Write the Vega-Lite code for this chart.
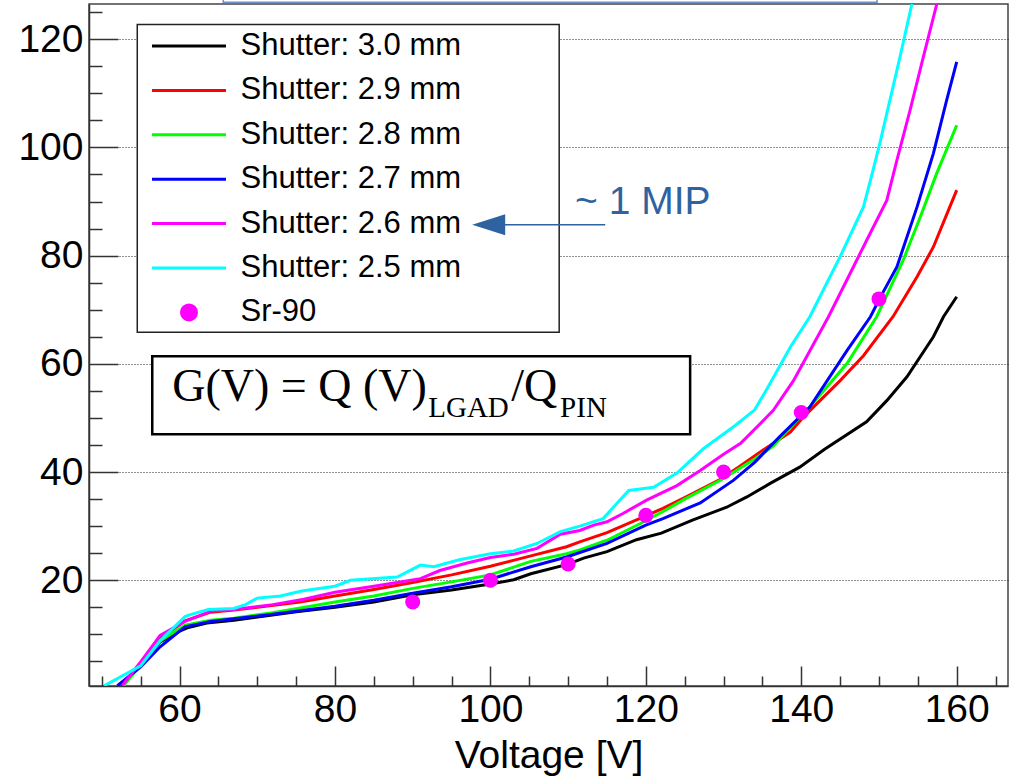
{
  "$schema": "https://vega.github.io/schema/vega-lite/v6.json",
  "width": 919,
  "height": 682,
  "autosize": "none",
  "padding": {"left": 89, "top": 4, "right": 1, "bottom": 94},
  "background": "white",
  "config": {
    "view": {"stroke": "#444444", "strokeWidth": 1.5},
    "font": "Liberation Sans"
  },
  "datasets": {
    "curves": [
      {"s":"Shutter: 3.0 mm","v":52.5,"g":0.5},{"s":"Shutter: 3.0 mm","v":55,"g":4.5},{"s":"Shutter: 3.0 mm","v":57.5,"g":8.6},{"s":"Shutter: 3.0 mm","v":60,"g":10.6},{"s":"Shutter: 3.0 mm","v":61,"g":11.2},{"s":"Shutter: 3.0 mm","v":63.5,"g":12.1},{"s":"Shutter: 3.0 mm","v":67,"g":12.6},{"s":"Shutter: 3.0 mm","v":71,"g":13.4},{"s":"Shutter: 3.0 mm","v":75,"g":14.2},{"s":"Shutter: 3.0 mm","v":80,"g":15.0},{"s":"Shutter: 3.0 mm","v":85,"g":16.0},{"s":"Shutter: 3.0 mm","v":90,"g":17.3},{"s":"Shutter: 3.0 mm","v":95,"g":18.2},{"s":"Shutter: 3.0 mm","v":100,"g":19.3},{"s":"Shutter: 3.0 mm","v":103,"g":20.1},{"s":"Shutter: 3.0 mm","v":105.2,"g":21.2},{"s":"Shutter: 3.0 mm","v":109.8,"g":22.9},{"s":"Shutter: 3.0 mm","v":112,"g":24.1},{"s":"Shutter: 3.0 mm","v":115,"g":25.3},{"s":"Shutter: 3.0 mm","v":118.8,"g":27.5},{"s":"Shutter: 3.0 mm","v":122,"g":28.7},{"s":"Shutter: 3.0 mm","v":126,"g":31.1},{"s":"Shutter: 3.0 mm","v":130.4,"g":33.5},{"s":"Shutter: 3.0 mm","v":133,"g":35.4},{"s":"Shutter: 3.0 mm","v":136,"g":37.9},{"s":"Shutter: 3.0 mm","v":139.8,"g":40.9},{"s":"Shutter: 3.0 mm","v":143,"g":44.2},{"s":"Shutter: 3.0 mm","v":148.4,"g":49.3},{"s":"Shutter: 3.0 mm","v":151,"g":53.2},{"s":"Shutter: 3.0 mm","v":153.6,"g":57.6},{"s":"Shutter: 3.0 mm","v":157,"g":65.0},{"s":"Shutter: 3.0 mm","v":158.3,"g":68.7},{"s":"Shutter: 3.0 mm","v":160,"g":72.4},
      {"s":"Shutter: 2.9 mm","v":52.6,"g":0.5},{"s":"Shutter: 2.9 mm","v":55,"g":4.8},{"s":"Shutter: 2.9 mm","v":57.5,"g":9.2},{"s":"Shutter: 2.9 mm","v":60.7,"g":12.5},{"s":"Shutter: 2.9 mm","v":64,"g":14.1},{"s":"Shutter: 2.9 mm","v":67,"g":14.5},{"s":"Shutter: 2.9 mm","v":70,"g":15.0},{"s":"Shutter: 2.9 mm","v":75.5,"g":16.0},{"s":"Shutter: 2.9 mm","v":80,"g":17.1},{"s":"Shutter: 2.9 mm","v":85,"g":18.3},{"s":"Shutter: 2.9 mm","v":90,"g":19.6},{"s":"Shutter: 2.9 mm","v":95,"g":21.0},{"s":"Shutter: 2.9 mm","v":100,"g":22.6},{"s":"Shutter: 2.9 mm","v":105.2,"g":24.5},{"s":"Shutter: 2.9 mm","v":109.8,"g":26.2},{"s":"Shutter: 2.9 mm","v":111.5,"g":27.1},{"s":"Shutter: 2.9 mm","v":115,"g":28.8},{"s":"Shutter: 2.9 mm","v":120,"g":31.9},{"s":"Shutter: 2.9 mm","v":122.2,"g":33.3},{"s":"Shutter: 2.9 mm","v":125,"g":35.3},{"s":"Shutter: 2.9 mm","v":129.4,"g":38.5},{"s":"Shutter: 2.9 mm","v":132,"g":41.0},{"s":"Shutter: 2.9 mm","v":135,"g":44.0},{"s":"Shutter: 2.9 mm","v":138.6,"g":47.4},{"s":"Shutter: 2.9 mm","v":140.3,"g":50.2},{"s":"Shutter: 2.9 mm","v":145,"g":56.9},{"s":"Shutter: 2.9 mm","v":148,"g":61.5},{"s":"Shutter: 2.9 mm","v":151.8,"g":68.7},{"s":"Shutter: 2.9 mm","v":154.9,"g":76.1},{"s":"Shutter: 2.9 mm","v":157,"g":81.6},{"s":"Shutter: 2.9 mm","v":158.4,"g":86.5},{"s":"Shutter: 2.9 mm","v":160,"g":92.1},
      {"s":"Shutter: 2.8 mm","v":52.8,"g":0.5},{"s":"Shutter: 2.8 mm","v":55,"g":4.4},{"s":"Shutter: 2.8 mm","v":57.5,"g":8.8},{"s":"Shutter: 2.8 mm","v":60.7,"g":11.7},{"s":"Shutter: 2.8 mm","v":64,"g":12.6},{"s":"Shutter: 2.8 mm","v":67,"g":13.0},{"s":"Shutter: 2.8 mm","v":72,"g":14.0},{"s":"Shutter: 2.8 mm","v":80,"g":16.0},{"s":"Shutter: 2.8 mm","v":85,"g":17.1},{"s":"Shutter: 2.8 mm","v":90,"g":18.5},{"s":"Shutter: 2.8 mm","v":95,"g":19.7},{"s":"Shutter: 2.8 mm","v":100,"g":21.0},{"s":"Shutter: 2.8 mm","v":105.2,"g":23.5},{"s":"Shutter: 2.8 mm","v":109.8,"g":24.9},{"s":"Shutter: 2.8 mm","v":111.5,"g":25.6},{"s":"Shutter: 2.8 mm","v":115,"g":27.4},{"s":"Shutter: 2.8 mm","v":120,"g":31.0},{"s":"Shutter: 2.8 mm","v":122.2,"g":32.7},{"s":"Shutter: 2.8 mm","v":125,"g":35.0},{"s":"Shutter: 2.8 mm","v":130,"g":38.8},{"s":"Shutter: 2.8 mm","v":134,"g":42.4},{"s":"Shutter: 2.8 mm","v":136.4,"g":44.8},{"s":"Shutter: 2.8 mm","v":138.6,"g":48.3},{"s":"Shutter: 2.8 mm","v":140.7,"g":51.4},{"s":"Shutter: 2.8 mm","v":145.9,"g":60.1},{"s":"Shutter: 2.8 mm","v":149.7,"g":68.7},{"s":"Shutter: 2.8 mm","v":153.1,"g":79.1},{"s":"Shutter: 2.8 mm","v":155.3,"g":87.1},{"s":"Shutter: 2.8 mm","v":157.4,"g":95.1},{"s":"Shutter: 2.8 mm","v":160,"g":104.1},
      {"s":"Shutter: 2.7 mm","v":52.0,"g":0.5},{"s":"Shutter: 2.7 mm","v":55,"g":4.0},{"s":"Shutter: 2.7 mm","v":57.5,"g":7.7},{"s":"Shutter: 2.7 mm","v":60.7,"g":11.4},{"s":"Shutter: 2.7 mm","v":64,"g":12.4},{"s":"Shutter: 2.7 mm","v":67,"g":12.9},{"s":"Shutter: 2.7 mm","v":72,"g":13.7},{"s":"Shutter: 2.7 mm","v":80,"g":15.2},{"s":"Shutter: 2.7 mm","v":85,"g":16.3},{"s":"Shutter: 2.7 mm","v":90,"g":17.6},{"s":"Shutter: 2.7 mm","v":95,"g":18.8},{"s":"Shutter: 2.7 mm","v":100,"g":20.2},{"s":"Shutter: 2.7 mm","v":105.2,"g":22.5},{"s":"Shutter: 2.7 mm","v":109.8,"g":24.3},{"s":"Shutter: 2.7 mm","v":115,"g":26.8},{"s":"Shutter: 2.7 mm","v":120,"g":30.2},{"s":"Shutter: 2.7 mm","v":122.2,"g":31.4},{"s":"Shutter: 2.7 mm","v":127,"g":34.3},{"s":"Shutter: 2.7 mm","v":131.3,"g":38.5},{"s":"Shutter: 2.7 mm","v":134,"g":41.8},{"s":"Shutter: 2.7 mm","v":137.2,"g":46.5},{"s":"Shutter: 2.7 mm","v":141.1,"g":52.0},{"s":"Shutter: 2.7 mm","v":145.9,"g":62.5},{"s":"Shutter: 2.7 mm","v":148.9,"g":68.7},{"s":"Shutter: 2.7 mm","v":150.1,"g":72.1},{"s":"Shutter: 2.7 mm","v":152.3,"g":77.9},{"s":"Shutter: 2.7 mm","v":154.9,"g":89.0},{"s":"Shutter: 2.7 mm","v":157,"g":98.9},{"s":"Shutter: 2.7 mm","v":158.7,"g":108.7},{"s":"Shutter: 2.7 mm","v":160,"g":115.8},
      {"s":"Shutter: 2.6 mm","v":52.6,"g":0.5},{"s":"Shutter: 2.6 mm","v":55,"g":4.9},{"s":"Shutter: 2.6 mm","v":57.5,"g":9.8},{"s":"Shutter: 2.6 mm","v":60.7,"g":12.4},{"s":"Shutter: 2.6 mm","v":64,"g":14.3},{"s":"Shutter: 2.6 mm","v":67,"g":14.6},{"s":"Shutter: 2.6 mm","v":72,"g":15.5},{"s":"Shutter: 2.6 mm","v":76,"g":16.5},{"s":"Shutter: 2.6 mm","v":80,"g":17.8},{"s":"Shutter: 2.6 mm","v":85,"g":18.9},{"s":"Shutter: 2.6 mm","v":89,"g":19.8},{"s":"Shutter: 2.6 mm","v":91,"g":20.3},{"s":"Shutter: 2.6 mm","v":93.5,"g":21.8},{"s":"Shutter: 2.6 mm","v":97,"g":23.2},{"s":"Shutter: 2.6 mm","v":100,"g":24.2},{"s":"Shutter: 2.6 mm","v":103,"g":24.8},{"s":"Shutter: 2.6 mm","v":106,"g":25.9},{"s":"Shutter: 2.6 mm","v":109,"g":28.5},{"s":"Shutter: 2.6 mm","v":111.5,"g":29.2},{"s":"Shutter: 2.6 mm","v":113.3,"g":30.2},{"s":"Shutter: 2.6 mm","v":115,"g":30.8},{"s":"Shutter: 2.6 mm","v":117,"g":32.3},{"s":"Shutter: 2.6 mm","v":120.1,"g":34.8},{"s":"Shutter: 2.6 mm","v":124,"g":37.5},{"s":"Shutter: 2.6 mm","v":127,"g":40.3},{"s":"Shutter: 2.6 mm","v":130,"g":43.3},{"s":"Shutter: 2.6 mm","v":132.2,"g":45.3},{"s":"Shutter: 2.6 mm","v":136.4,"g":51.4},{"s":"Shutter: 2.6 mm","v":139,"g":56.9},{"s":"Shutter: 2.6 mm","v":143.5,"g":68.7},{"s":"Shutter: 2.6 mm","v":146.7,"g":77.9},{"s":"Shutter: 2.6 mm","v":148.4,"g":82.8},{"s":"Shutter: 2.6 mm","v":151,"g":90.2},{"s":"Shutter: 2.6 mm","v":152.3,"g":97.6},{"s":"Shutter: 2.6 mm","v":154,"g":106.9},{"s":"Shutter: 2.6 mm","v":155.7,"g":116.7},{"s":"Shutter: 2.6 mm","v":157.4,"g":126.3},{"s":"Shutter: 2.6 mm","v":158,"g":129.5},
      {"s":"Shutter: 2.5 mm","v":50.3,"g":0.5},{"s":"Shutter: 2.5 mm","v":55,"g":4.2},{"s":"Shutter: 2.5 mm","v":57.5,"g":8.8},{"s":"Shutter: 2.5 mm","v":60.7,"g":13.3},{"s":"Shutter: 2.5 mm","v":61.5,"g":13.7},{"s":"Shutter: 2.5 mm","v":63.7,"g":14.6},{"s":"Shutter: 2.5 mm","v":67,"g":14.8},{"s":"Shutter: 2.5 mm","v":68.5,"g":15.5},{"s":"Shutter: 2.5 mm","v":70,"g":16.7},{"s":"Shutter: 2.5 mm","v":73,"g":17.1},{"s":"Shutter: 2.5 mm","v":75.7,"g":18.0},{"s":"Shutter: 2.5 mm","v":80,"g":18.9},{"s":"Shutter: 2.5 mm","v":82,"g":20.0},{"s":"Shutter: 2.5 mm","v":88,"g":20.6},{"s":"Shutter: 2.5 mm","v":91,"g":22.8},{"s":"Shutter: 2.5 mm","v":92.7,"g":22.5},{"s":"Shutter: 2.5 mm","v":96,"g":23.8},{"s":"Shutter: 2.5 mm","v":100,"g":24.9},{"s":"Shutter: 2.5 mm","v":103,"g":25.4},{"s":"Shutter: 2.5 mm","v":106,"g":26.8},{"s":"Shutter: 2.5 mm","v":109,"g":29.0},{"s":"Shutter: 2.5 mm","v":111.5,"g":30.0},{"s":"Shutter: 2.5 mm","v":114.5,"g":31.4},{"s":"Shutter: 2.5 mm","v":117.8,"g":36.6},{"s":"Shutter: 2.5 mm","v":121,"g":37.2},{"s":"Shutter: 2.5 mm","v":124,"g":39.8},{"s":"Shutter: 2.5 mm","v":127.4,"g":44.3},{"s":"Shutter: 2.5 mm","v":131.5,"g":48.6},{"s":"Shutter: 2.5 mm","v":134,"g":51.5},{"s":"Shutter: 2.5 mm","v":135.6,"g":55.4},{"s":"Shutter: 2.5 mm","v":138.6,"g":63.1},{"s":"Shutter: 2.5 mm","v":141.1,"g":68.7},{"s":"Shutter: 2.5 mm","v":145,"g":79.8},{"s":"Shutter: 2.5 mm","v":148,"g":89.0},{"s":"Shutter: 2.5 mm","v":148.9,"g":93.9},{"s":"Shutter: 2.5 mm","v":150.1,"g":100.7},{"s":"Shutter: 2.5 mm","v":151.4,"g":108.7},{"s":"Shutter: 2.5 mm","v":152.7,"g":116.7},{"s":"Shutter: 2.5 mm","v":154.2,"g":126.3},{"s":"Shutter: 2.5 mm","v":154.5,"g":129.0}
    ],
    "sr90": [
      {"s":"Sr-90","v":90,"g":16},{"s":"Sr-90","v":100,"g":20},{"s":"Sr-90","v":110,"g":23},{"s":"Sr-90","v":120,"g":32},{"s":"Sr-90","v":130,"g":40},{"s":"Sr-90","v":140,"g":51},{"s":"Sr-90","v":150,"g":72}
    ],
    "legendbox": [{"v":54.56,"v2":108.85,"g":122.72,"g2":65.84}],
    "formulabox": [{"v":56.49,"v2":125.7,"g":61.4,"g2":46.99}],
    "topbox": [{"v":65.63,"v2":149.75,"g":126.84,"g2":131}],
    "formulamain": [{"v":59.06,"g":53.08,"t":"G(V) = Q (V)"},{"v":102.67,"g":53.08,"t":"/Q"}],
    "formulasub": [{"v":92.0,"g":50.13,"t":"LGAD"},{"v":108.97,"g":50.13,"t":"PIN"}],
    "mip": [{"v":110.9,"g":87.65,"t":"~ 1 MIP"}],
    "arrowline": [{"v":114.77,"v2":100.5,"g":85.71}],
    "arrowhead": [{"v":99.78,"g":85.71}]
  },
  "layer": [
    {
      "data": {"name": "curves"},
      "mark": {"type": "line", "strokeWidth": 3, "clip": true},
      "encoding": {
        "x": {
          "field": "v", "type": "quantitative", "title": "Voltage [V]",
          "scale": {"domain": [48.35, 166.6], "nice": false, "zero": false},
          "axis": {
            "values": [50,55,60,65,70,75,80,85,90,95,100,105,110,115,120,125,130,135,140,145,150,155,160,165],
            "tickCount": 500,
            "format": "d",
            "labelExpr": "datum.value % 20 === 0 ? datum.label : ''",
            "tickSize": {"condition": {"test": "datum.value % 20 === 0", "value": -20}, "value": -10},
            "tickColor": "#333333", "tickWidth": 1.5,
            "domainColor": "#333333", "domainWidth": 1.5,
            "grid": false,
            "labelFont": "Liberation Sans", "labelFontSize": 39, "labelColor": "#000000",
            "labelPadding": 24, "labelOverlap": false, "labelFlush": false,
            "titleFont": "Liberation Sans", "titleFontSize": 39, "titleFontWeight": "normal", "titleColor": "#000000",
            "titlePadding": -3
          }
        },
        "y": {
          "field": "g", "type": "quantitative", "title": null,
          "scale": {"domain": [0.46, 126.5], "nice": false, "zero": false},
          "axis": {
            "values": [5,10,15,20,25,30,35,40,45,50,55,60,65,70,75,80,85,90,95,100,105,110,115,120,125],
            "tickCount": 500,
            "format": "d",
            "labelExpr": "datum.value % 20 === 0 ? datum.label : ''",
            "tickSize": {"condition": {"test": "datum.value % 20 === 0", "value": -29}, "value": -13},
            "tickColor": "#333333", "tickWidth": 1.5,
            "domainColor": "#333333", "domainWidth": 1.5,
            "grid": true,
            "gridColor": "#222222", "gridWidth": 1, "gridDash": [1, 2],
            "gridOpacity": {"condition": {"test": "datum.value % 20 === 0", "value": 1}, "value": 0},
            "labelFont": "Liberation Sans", "labelFontSize": 39, "labelColor": "#000000",
            "labelPadding": 35, "labelOverlap": false, "labelFlush": false
          }
        },
        "color": {
          "field": "s", "type": "nominal",
          "scale": {
            "domain": ["Shutter: 3.0 mm","Shutter: 2.9 mm","Shutter: 2.8 mm","Shutter: 2.7 mm","Shutter: 2.6 mm","Shutter: 2.5 mm","Sr-90"],
            "range": ["#000000","#ff0000","#00ff00","#0000ff","#ff00ff","#00ffff","#ff00ff"]
          },
          "legend": {
            "orient": "none", "legendX": 63, "legendY": 26.5,
            "title": null, "padding": 0,
            "labelFont": "Liberation Sans", "labelFontSize": 31, "labelColor": "#000000", "labelLimit": 500,
            "symbolType": "M-4,0L4,0", "symbolSize": 342, "symbolStrokeWidth": 3,
            "symbolOffset": 21.5, "labelOffset": 36, "rowPadding": 12.4,
            "encode": {
              "symbols": {
                "update": {
                  "shape": {"signal": "datum.label === 'Sr-90' ? 'M-0.81,0A0.81,0.81,0,1,0,0.81,0A0.81,0.81,0,1,0,-0.81,0Z' : 'M-4,0L4,0'"},
                  "fill": {"signal": "datum.label === 'Sr-90' ? '#ff00ff' : 'transparent'"},
                  "stroke": {"signal": "datum.label === 'Sr-90' ? 'transparent' : scale('color', datum.value)"},
                  "strokeWidth": {"value": 3},
                  "opacity": {"value": 1}
                }
              }
            }
          }
        },
        "order": {"field": "v", "type": "quantitative"}
      }
    },
    {
      "data": {"name": "legendbox"},
      "mark": {"type": "rect", "fill": "white", "stroke": "#222222", "strokeWidth": 1.5},
      "encoding": {
        "x": {"field": "v", "type": "quantitative"},
        "x2": {"field": "v2"},
        "y": {"field": "g", "type": "quantitative"},
        "y2": {"field": "g2"}
      }
    },
    {
      "data": {"name": "formulabox"},
      "mark": {"type": "rect", "fill": "white", "stroke": "#000000", "strokeWidth": 2.5},
      "encoding": {
        "x": {"field": "v", "type": "quantitative"},
        "x2": {"field": "v2"},
        "y": {"field": "g", "type": "quantitative"},
        "y2": {"field": "g2"}
      }
    },
    {
      "data": {"name": "sr90"},
      "mark": {"type": "point", "shape": "circle", "filled": true, "size": 225, "opacity": 1},
      "encoding": {
        "x": {"field": "v", "type": "quantitative"},
        "y": {"field": "g", "type": "quantitative"},
        "color": {"field": "s", "type": "nominal"}
      }
    },
    {
      "data": {"name": "formulamain"},
      "mark": {"type": "text", "font": "Liberation Serif", "fontSize": 46, "align": "left", "baseline": "alphabetic", "color": "#000000"},
      "encoding": {
        "x": {"field": "v", "type": "quantitative"},
        "y": {"field": "g", "type": "quantitative"},
        "text": {"field": "t"}
      }
    },
    {
      "data": {"name": "formulasub"},
      "mark": {"type": "text", "font": "Liberation Serif", "fontSize": 29, "align": "left", "baseline": "alphabetic", "color": "#000000"},
      "encoding": {
        "x": {"field": "v", "type": "quantitative"},
        "y": {"field": "g", "type": "quantitative"},
        "text": {"field": "t"}
      }
    },
    {
      "data": {"name": "mip"},
      "mark": {"type": "text", "font": "Liberation Sans", "fontSize": 39, "align": "left", "baseline": "alphabetic", "color": "#2f62a0"},
      "encoding": {
        "x": {"field": "v", "type": "quantitative"},
        "y": {"field": "g", "type": "quantitative"},
        "text": {"field": "t"}
      }
    },
    {
      "data": {"name": "arrowline"},
      "mark": {"type": "rule", "color": "#2f62a0", "strokeWidth": 1.5},
      "encoding": {
        "x": {"field": "v", "type": "quantitative"},
        "x2": {"field": "v2"},
        "y": {"field": "g", "type": "quantitative"}
      }
    },
    {
      "data": {"name": "arrowhead"},
      "mark": {"type": "point", "shape": "M-1,0L1,-0.64L1,0.64Z", "filled": true, "size": 1089, "color": "#2f62a0", "opacity": 1},
      "encoding": {
        "x": {"field": "v", "type": "quantitative"},
        "y": {"field": "g", "type": "quantitative"}
      }
    },
    {
      "data": {"name": "topbox"},
      "mark": {"type": "rect", "fill": null, "fillOpacity": 0, "stroke": "#6f8fc4", "strokeWidth": 1.5, "clip": false},
      "encoding": {
        "x": {"field": "v", "type": "quantitative"},
        "x2": {"field": "v2"},
        "y": {"field": "g", "type": "quantitative"},
        "y2": {"field": "g2"}
      }
    }
  ]
}
